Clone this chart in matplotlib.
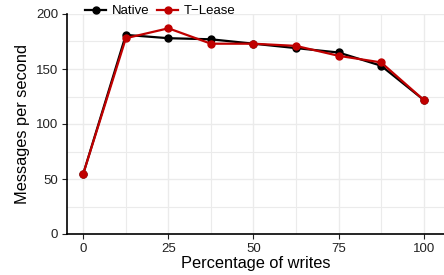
import numpy as np
import matplotlib.pyplot as plt

writes = [0, 12.5, 25, 37.5, 50, 62.5, 75, 87.5, 100]
native = [55, 181, 178, 177, 173, 169, 165, 153, 122]
tlease = [55, 178, 187, 173, 173, 171, 162, 156, 122]

plt.rcParams['font.family'] = ['Liberation Sans', 'DejaVu Sans']

fig = plt.figure(figsize=(4.44, 2.75), dpi=100)
ax = fig.add_axes([67 / 444, 1 - 234 / 275, (444 - 67) / 444, (234 - 14) / 275])

ax.plot(writes, native, color='black', marker='o', markersize=5, lw=1.6, label='Native', zorder=3)
ax.plot(writes, tlease, color='#C00000', marker='o', markersize=5, lw=1.6, label='T\u2212Lease', zorder=4)

ax.set_xlim(-4.8, 106)
ax.set_ylim(0, 200)
ax.set_xticks([0, 25, 50, 75, 100])
ax.set_yticks([0, 50, 100, 150, 200])
ax.set_xticks([12.5, 37.5, 62.5, 87.5], minor=True)
ax.set_yticks([25, 75, 125, 175], minor=True)
ax.grid(which='major', color='#ebebeb', lw=1.0)
ax.grid(which='minor', color='#ebebeb', lw=0.8)
ax.set_axisbelow(True)

for s in ['top', 'right']:
    ax.spines[s].set_visible(False)
for s in ['left', 'bottom']:
    ax.spines[s].set_linewidth(1.2)
ax.tick_params(which='major', length=3.5, width=0.8, labelsize=9.5, colors='#222222', pad=3)
ax.tick_params(which='minor', length=0)

ax.set_xlabel('Percentage of writes', fontsize=11.8, labelpad=1)
ax.set_ylabel('Messages per second', fontsize=11.8, labelpad=4)

ax.legend(loc='lower left', bbox_to_anchor=(0.048, 0.985), ncol=2, frameon=False,
          fontsize=9.5, handlelength=1.6, handletextpad=0.4, columnspacing=0.6,
          borderpad=0, borderaxespad=0)

fig.savefig('out.png', dpi=100)
